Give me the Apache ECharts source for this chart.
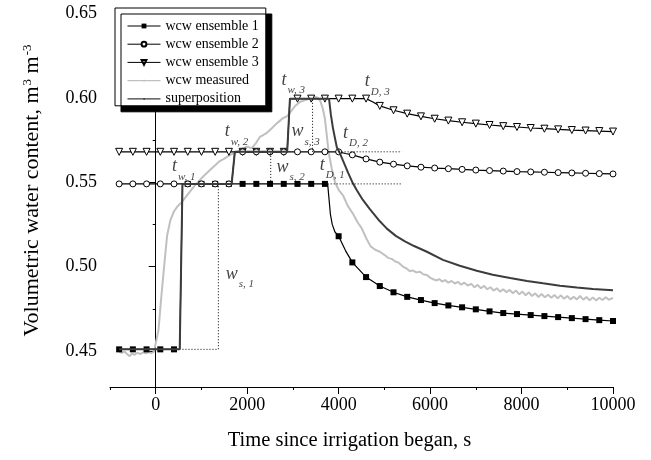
<!DOCTYPE html>
<html><head><meta charset="utf-8">
<script src="https://cdn.jsdelivr.net/npm/echarts@6/dist/echarts.min.js"></script>
<style>html,body{margin:0;padding:0;background:#fff}#c{width:651px;height:460px}</style>
</head><body><div id="c"></div><script>
// ---------- data ----------
const markerTime = [-800,-500,-200,100,400,700,1000,1300,1600,1900,2200,2500,2800,3100,3400,3700,4000,4300,4600,4900,5200,5500,5800,6100,6400,6700,7000,7300,7600,7900,8200,8500,8800,9100,9400,9700,10000];

const ens1Values = [0.451,0.451,0.451,0.451,0.451,
  0.549,0.549,0.549,0.549,0.549,0.549,0.549,0.549,0.549,0.549,0.549,
  0.518,0.5025,0.4938,0.4885,0.4848,0.4821,0.4802,0.4784,0.4770,0.4759,0.4747,0.4735,0.4725,0.4719,0.4713,0.4707,0.4701,0.4695,0.4689,0.4683,0.4678];
const ens1ExtraTime  = [525,585,3760,3790,3820,3860,3920,4150];
const ens1ExtraValue = [0.451,0.549,0.549,0.540,0.531,0.525,0.5205,0.5095];

const ens2Values = [0.549,0.549,0.549,0.549,0.549,0.549,0.549,0.549,0.549,
  0.568,0.568,0.568,0.568,0.568,0.568,0.568,0.568,
  0.5662,0.5638,0.5619,0.5607,0.5597,0.5589,0.5584,0.5580,0.5576,0.5572,0.5569,0.5566,0.5563,0.5561,0.5559,0.5557,0.5555,0.5553,0.5551,0.5549];
const ens2ExtraTime  = [1660,1730,4150];
const ens2ExtraValue = [0.549,0.568,0.5670];

const ens3Values = [0.568,0.568,0.568,0.568,0.568,0.568,0.568,0.568,0.568,0.568,0.568,0.568,0.568,
  0.5995,0.5995,0.5995,0.5995,0.5995,0.5995,
  0.5952,0.5926,0.5906,0.5890,0.5876,0.5865,0.5855,0.5847,0.5839,0.5832,0.5827,0.5821,0.5817,0.5813,0.5809,0.5806,0.5803,0.5800];
const ens3ExtraTime  = [2875,2935,4750];
const ens3ExtraValue = [0.568,0.5995,0.5975];

const measuredTime = [-800,-740,-680,-620,-570,-520,-460,-400,-340,-280,-220,-160,-100,-40,0,60,120,180,250,320,400,480,570,650,744,850,963,1060,1182,1300,1400,1500,1619,1720,1820,1904,2000,2100,2200,2276,2341,2420,2538,2641,2779,2870,2932,3042,3151,3250,3370,3480,3545,3600,3650,3698,3740,3780,3850,3920,4000,4100,4200,4320,4420,4500,4600,4700,4800,4902,
  5000,5080,5160,5240,5320,5405,5480,5558,5620,5700,5780,5850,5930,6000,6070,6140,6200,6260,6330,6400,6470,6540,6610,6680,6750,6820,6900,6970,7040,7110,7180,7250,7320,7390,7460,7530,7600,7670,7740,7810,7880,7950,8020,8090,8160,8230,8300,8370,8440,8510,8580,8650,8720,8790,8860,8930,9000,9070,9140,9210,9280,9350,9420,9490,9560,9630,9700,9770,9840,9910,10000];
const measuredValue = [0.4495,0.4490,0.4497,0.4480,0.4470,0.4485,0.4478,0.4490,0.4482,0.4492,0.4486,0.4494,0.4488,0.4495,0.4500,0.4624,0.4814,0.4991,0.5186,0.5275,0.5328,0.5358,0.5382,0.5410,0.5443,0.5480,0.5512,0.5540,0.5571,0.5600,0.5625,0.5640,0.5660,0.5672,0.5685,0.5700,0.5710,0.5702,0.5735,0.5768,0.5778,0.5790,0.5820,0.5847,0.5879,0.5890,0.5910,0.5950,0.5975,0.5985,0.5995,0.6005,0.6000,0.5980,0.5940,0.5880,0.5780,0.5680,0.5580,0.5500,0.5455,0.5420,0.5360,0.5310,0.5260,0.5230,0.5170,0.5120,0.5100,0.5088,
  0.5070,0.5052,0.5046,0.5030,0.5022,0.5000,0.4990,0.4972,0.4978,0.4966,0.4970,0.4955,0.4950,0.4935,0.4925,0.4918,0.4926,0.4912,0.4920,0.4905,0.4915,0.4900,0.4910,0.4893,0.4905,0.4888,0.4898,0.4878,0.4892,0.4872,0.4886,0.4866,0.4878,0.4858,0.4872,0.4852,0.4866,0.4848,0.4862,0.4842,0.4858,0.4836,0.4852,0.4830,0.4848,0.4826,0.4842,0.4820,0.4838,0.4818,0.4834,0.4816,0.4832,0.4812,0.4830,0.4810,0.4826,0.4806,0.4822,0.4806,0.4826,0.4804,0.4820,0.4800,0.4818,0.4800,0.4816,0.4802,0.4818,0.4804,0.4815];

const superTime  = [-800,525,585,1660,1730,2875,2935,3790,3830,3873,3920,3960,4026,4100,4208,4300,4391,4530,4683,4870,5055,5250,5450,5650,5930,6280,6650,7020,7370,7750,8120,8470,8840,9210,9560,10000];
const superValue = [0.451,0.451,0.549,0.549,0.568,0.568,0.5995,0.5995,0.590,0.5825,0.576,0.5707,0.5672,0.5625,0.5555,0.5500,0.5455,0.5395,0.5340,0.5278,0.5225,0.5182,0.5150,0.5122,0.5088,0.5040,0.5005,0.4976,0.4952,0.4932,0.4915,0.4901,0.4887,0.4876,0.4867,0.4860];

// dotted guide lines (time, value pairs)
const guideWs1 = [[585,0.451],[1370,0.451],[1370,0.549]];
const guideWs2 = [[2515,0.549],[2515,0.568]];
const guideWs3 = [[3430,0.568],[3430,0.5995]];
const guideD1  = [[3760,0.549],[5380,0.549]];
const guideD2  = [[4000,0.568],[5380,0.568]];

// annotations
const annoMain = ['t','t','t','t','t','t','w','w','w'];
const annoSub  = ['w, 1','w, 2','w, 3','D, 1','D, 2','D, 3','s, 1','s, 2','s, 3'];
const annoTime = [357,1509,2749,3586,4096,4570,1531,2640,2968];
const annoVal  = [0.5592,0.5799,0.6105,0.5602,0.5790,0.6095,0.4956,0.5587,0.5799];

const xLabelTicks = [0,2000,4000,6000,8000,10000];
const xMinorTicks = [-1000,1000,3000,5000,7000,9000];
const yLabelTicks = [0.45,0.50,0.55,0.60,0.65];
const yMinorTicks = [0.475,0.525,0.575,0.625];

const legendNames = ['wcw ensemble 1','wcw ensemble 2','wcw ensemble 3','wcw measured','superposition'];

// ---------- build ----------
function mk(times, vals, exT, exV) {
  const pts = times.map((t,i)=>({value:[t, vals[i]]}));
  exT.forEach((t,i)=>pts.push({value:[t, exV[i]], symbol:'none'}));
  pts.sort((a,b)=>a.value[0]-b.value[0]);
  return pts;
}
const FF = 'Liberation Serif';
const chart = echarts.init(document.getElementById('c'), null, {renderer:'canvas'});

function guide(d){
  return {type:'line', data:d, symbol:'none', silent:true, z:6,
    lineStyle:{type:[1,2], color:'#000', width:1}, itemStyle:{color:'#000'}};
}
// plain line legend icon (tiny corner dots fix the bounding box so the bar stays thin)
const LINE_ICON = 'path://M0,0h0.01v0.01h-0.01z M0,2.5h33v1.2h-33z M16,2.1h1.2v2h-1.2z M32.99,5.99h0.01v0.01h-0.01z';

const option = {
  animation:false,
  backgroundColor:'#fff',
  grid:{left:110, right:38, top:10, bottom:73, show:false},
  legend:{
    data:[
      {name:legendNames[0]},{name:legendNames[1]},{name:legendNames[2]},
      {name:legendNames[3], icon:LINE_ICON},{name:legendNames[4], icon:LINE_ICON}
    ],
    orient:'vertical', left:115, top:8,
    itemWidth:33, itemHeight:6, itemGap:4.2, padding:[11,7,0,12],
    backgroundColor:'#fff', borderColor:'#000', borderWidth:1,
    shadowColor:'#000', shadowBlur:0, shadowOffsetX:6, shadowOffsetY:6,
    lineStyle:{width:1},
    textStyle:{fontFamily:FF, fontSize:14, color:'#000', lineHeight:14},
    selectedMode:false
  },
  xAxis:[
    {type:'value', min:-1000, max:10000, position:'bottom',
     axisLine:{lineStyle:{color:'#000', width:1}},
     axisTick:{customValues:xLabelTicks, length:7, lineStyle:{color:'#000'}},
     axisLabel:{customValues:xLabelTicks, margin:9, fontFamily:FF, fontSize:18, color:'#000',
       formatter:v=>String(v)},
     splitLine:{show:false},
     name:'Time since irrigation began, s', nameLocation:'middle', nameGap:43,
     nameTextStyle:{fontFamily:FF, fontSize:20.5, color:'#000', padding:[0,24,0,0]}},
    {type:'value', min:-1000, max:10000, position:'bottom',
     axisLine:{show:false},
     axisTick:{customValues:xMinorTicks, length:3, lineStyle:{color:'#000'}},
     axisLabel:{show:false}, splitLine:{show:false}}
  ],
  yAxis:[
    {type:'value', min:0.4287, max:0.652, position:'left',
     axisLine:{show:true, lineStyle:{color:'#000', width:1}},
     axisTick:{show:true, customValues:yLabelTicks, length:7, lineStyle:{color:'#000'}},
     axisLabel:{customValues:yLabelTicks, margin:13, fontFamily:FF, fontSize:18, color:'#000',
       formatter:v=>v.toFixed(2)},
     splitLine:{show:false},
     name:'{a|Volumetric water content, m}{s|3}{a| m}{s|-3}', nameLocation:'middle', nameGap:67,
     nameTextStyle:{fontFamily:FF, fontSize:22, color:'#000', padding:[0,0,0,16],
       rich:{a:{fontFamily:FF, fontSize:22, color:'#000', lineHeight:22, verticalAlign:'bottom'},
             s:{fontFamily:FF, fontSize:13, color:'#000', lineHeight:13, padding:[0,0,11,1], verticalAlign:'top'}}}},
    {type:'value', min:0.4287, max:0.652, position:'left',
     axisLine:{show:false},
     axisTick:{show:true, customValues:yMinorTicks, length:3, lineStyle:{color:'#000'}},
     axisLabel:{show:false}, splitLine:{show:false}}
  ],
  series:[
    {name:'wcw ensemble 1', type:'line', data:mk(markerTime, ens1Values, ens1ExtraTime, ens1ExtraValue),
     symbol:'rect', symbolSize:6, z:3,
     lineStyle:{color:'#000', width:1.2}, itemStyle:{color:'#000', borderColor:'#000', borderWidth:0}},
    {name:'wcw ensemble 2', type:'line', data:mk(markerTime, ens2Values, ens2ExtraTime, ens2ExtraValue),
     symbol:'circle', symbolSize:6, z:4,
     lineStyle:{color:'#000', width:1.2}, itemStyle:{color:'#fff', borderColor:'#000', borderWidth:1}},
    {name:'wcw ensemble 3', type:'line', data:mk(markerTime, ens3Values, ens3ExtraTime, ens3ExtraValue),
     symbol:'triangle', symbolRotate:180, symbolSize:7, z:3,
     lineStyle:{color:'#000', width:1.2}, itemStyle:{color:'#fff', borderColor:'#000', borderWidth:1}},
    {name:'wcw measured', type:'line', data:measuredTime.map((t,i)=>[t, measuredValue[i]]),
     symbol:'none', z:2,
     lineStyle:{color:'#c0c0c0', width:2}, itemStyle:{color:'#c0c0c0'}},
    {name:'superposition', type:'line', data:superTime.map((t,i)=>[t, superValue[i]]),
     symbol:'none', z:5,
     lineStyle:{color:'#3c3c3c', width:2}, itemStyle:{color:'#3c3c3c'}},
    guide(guideWs1), guide(guideWs2), guide(guideWs3), guide(guideD1), guide(guideD2),
    {type:'scatter', silent:true, z:7, symbolSize:0,
     data:annoTime.map((t,i)=>[t, annoVal[i]]),
     label:{show:true, position:'right', distance:0,
       formatter:p=>'{i|'+annoMain[p.dataIndex]+'}{s|'+annoSub[p.dataIndex]+'}',
       rich:{i:{fontFamily:FF, fontStyle:'italic', fontSize:18, color:'#111', lineHeight:18, verticalAlign:'middle'},
             s:{fontFamily:FF, fontStyle:'italic', fontSize:11, color:'#111', lineHeight:11, padding:[20,0,0,1], verticalAlign:'middle'}}}}
  ]
};
chart.setOption(option);
</script></body></html>
